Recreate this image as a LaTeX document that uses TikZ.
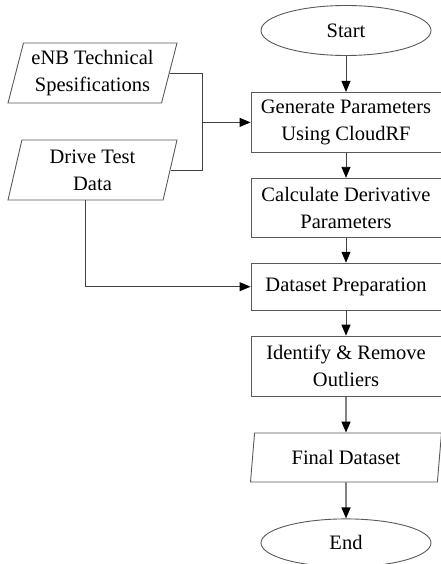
\documentclass[tikz,border=0pt]{standalone}
\usepackage{fontspec}
\setmainfont{Liberation Serif}
\usetikzlibrary{positioning,shapes.geometric,arrows.meta,calc}

\begin{document}
\begin{tikzpicture}[x=1pt, y=1pt, line width=0.9pt,
  font=\fontsize{20.5}{27}\selectfont,
  term/.style = {draw=black!65, ellipse, minimum width=170pt, minimum height=50pt, inner sep=1pt},
  proc/.style = {draw=black!65, rectangle, minimum width=190pt, minimum height=47pt, align=center, inner sep=2pt},
  io/.style = {draw=black!65, trapezium, trapezium left angle=72, trapezium right angle=108,
    trapezium stretches body, minimum width=169pt, minimum height=60pt, align=center, inner sep=1pt},
  arr/.style = {draw=black!75, -{Triangle[length=11pt,width=9pt,color=black]}}]
\useasboundingbox (0,0) rectangle (440,-564);
\node[term] (start) at (346,-30.5) {Start};
\node[proc, minimum height=60pt] (gen) [below=36pt of start] {Generate Parameters\\Using CloudRF};
\node[proc, minimum height=59pt] (calc) [below=25pt of gen] {Calculate Derivative\\Parameters};
\node[proc] (data) [below=25pt of calc] {Dataset Preparation};
\node[proc, minimum height=60pt] (ident) [below=25pt of data] {Identify \& Remove\\Outliers};
\node[io, trapezium left angle=76, trapezium right angle=104, minimum width=191pt, minimum height=49pt]
  (final) [below=36pt of ident] {Final Dataset};
\node[term, minimum height=48pt] (end) [below=36pt of final] {End};
\node[io] (enb) at (92.5,-73) {eNB Technical\\Spesifications};
\node[io] (drive) at (92.5,-170) {Drive Test\\Data};
\coordinate (jn) at ([xshift=-48pt]gen.west);
\coordinate (dbot) at ($(drive.bottom left corner)!.5!(drive.bottom right corner)$);
% main column
\draw[arr] (start) -- (gen);
\draw[arr] (gen) -- (calc);
\draw[arr] (calc) -- (data);
\draw[arr] (data) -- (ident);
\draw[arr, line width=1.4pt] (ident) -- (final);
\draw[arr, line width=1.4pt] (final) -- (end);
% inputs
\draw[draw=black!75] (enb.east) -| (jn) |- (drive.east);
\draw[arr] (jn) -- (gen.west);
\draw[arr] (dbot) |- (data.west);
\end{tikzpicture}
\end{document}
